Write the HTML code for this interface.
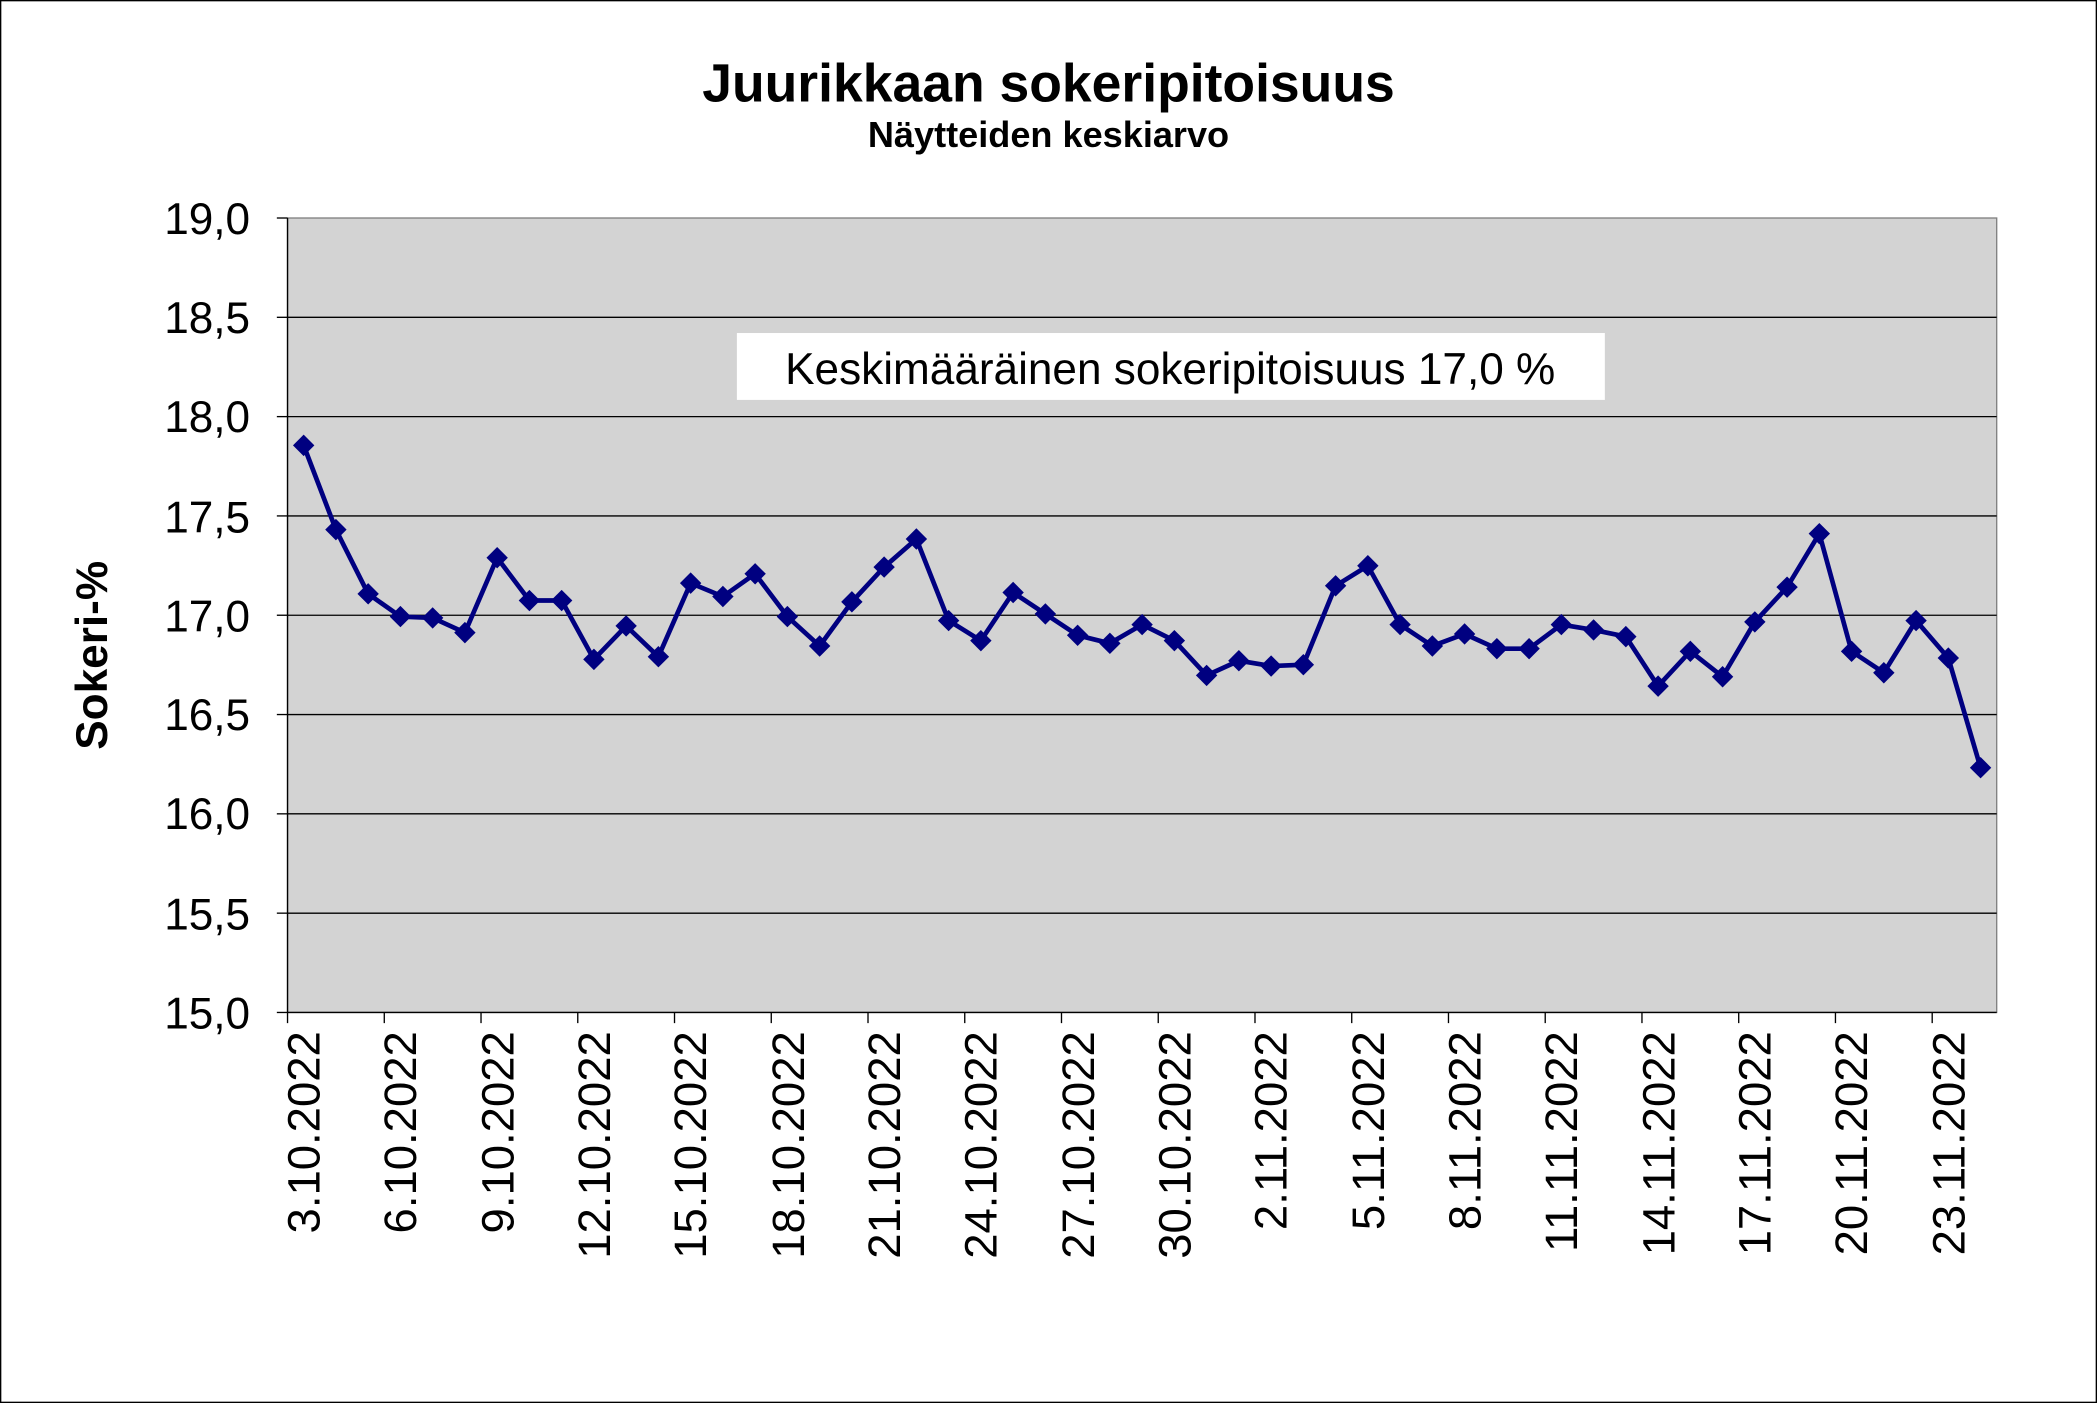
<!DOCTYPE html>
<html><head><meta charset="utf-8"><style>
html,body{margin:0;padding:0;background:#fff;}
svg{display:block;}
text{font-family:"Liberation Sans",Arial,sans-serif;fill:#000;}
</style></head><body>
<svg width="2097" height="1403" viewBox="0 0 1568 1049" preserveAspectRatio="none" xmlns="http://www.w3.org/2000/svg" xmlns:xlink="http://www.w3.org/1999/xlink">
<defs><path id="d" d="M0,-8 L8,0 L0,8 L-8,0Z" fill="#000080"/></defs>
<rect x="0.5" y="0.5" width="1567" height="1048" fill="#fff" stroke="#000" stroke-width="1"/>
<text x="784" y="76" font-size="40" font-weight="bold" text-anchor="middle">Juurikkaan sokeripitoisuus</text>
<text x="784" y="110" font-size="27" font-weight="bold" text-anchor="middle">Näytteiden keskiarvo</text>
<rect x="215" y="163" width="1278" height="594" fill="#d3d3d3" stroke="#808080" stroke-width="1"/>
<g stroke="#000" stroke-width="1">
<line x1="215" y1="237.25" x2="1493" y2="237.25"/>
<line x1="215" y1="311.5" x2="1493" y2="311.5"/>
<line x1="215" y1="385.75" x2="1493" y2="385.75"/>
<line x1="215" y1="460" x2="1493" y2="460"/>
<line x1="215" y1="534.25" x2="1493" y2="534.25"/>
<line x1="215" y1="608.5" x2="1493" y2="608.5"/>
<line x1="215" y1="682.75" x2="1493" y2="682.75"/>
<line x1="215" y1="163" x2="215" y2="757"/>
<line x1="215" y1="757" x2="1493" y2="757"/>
<line x1="207" y1="163" x2="215" y2="163"/><line x1="207" y1="237.25" x2="215" y2="237.25"/>
<line x1="207" y1="311.5" x2="215" y2="311.5"/><line x1="207" y1="385.75" x2="215" y2="385.75"/>
<line x1="207" y1="460" x2="215" y2="460"/><line x1="207" y1="534.25" x2="215" y2="534.25"/>
<line x1="207" y1="608.5" x2="215" y2="608.5"/><line x1="207" y1="682.75" x2="215" y2="682.75"/>
<line x1="207" y1="757" x2="215" y2="757"/>
</g>
<line x1="215" y1="761" x2="1494" y2="761" stroke="#000" stroke-width="8" stroke-dasharray="1 71.3396" transform="translate(-0.5,0)"/>
<g font-size="33" text-anchor="end">
<text x="187" y="175">19,0</text><text x="187" y="249">18,5</text><text x="187" y="323">18,0</text>
<text x="187" y="398">17,5</text><text x="187" y="472">17,0</text><text x="187" y="546">16,5</text>
<text x="187" y="620">16,0</text><text x="187" y="695">15,5</text><text x="187" y="769">15,0</text>
</g>
<text transform="translate(80,490) rotate(-90)" font-size="33" font-weight="bold" text-anchor="middle">Sokeri-%</text>
<rect x="551" y="249" width="649" height="50" fill="#fff"/>
<text x="875" y="287" font-size="33" text-anchor="middle">Keskimääräinen sokeripitoisuus 17,0 %</text>
<g font-size="34" text-anchor="end">
<text transform="translate(239,771) rotate(-90)">3.10.2022</text>
<text transform="translate(311,771) rotate(-90)">6.10.2022</text>
<text transform="translate(384,771) rotate(-90)">9.10.2022</text>
<text transform="translate(456,771) rotate(-90)">12.10.2022</text>
<text transform="translate(528,771) rotate(-90)">15.10.2022</text>
<text transform="translate(601,771) rotate(-90)">18.10.2022</text>
<text transform="translate(673,771) rotate(-90)">21.10.2022</text>
<text transform="translate(745,771) rotate(-90)">24.10.2022</text>
<text transform="translate(818,771) rotate(-90)">27.10.2022</text>
<text transform="translate(890,771) rotate(-90)">30.10.2022</text>
<text transform="translate(962,771) rotate(-90)">2.11.2022</text>
<text transform="translate(1035,771) rotate(-90)">5.11.2022</text>
<text transform="translate(1107,771) rotate(-90)">8.11.2022</text>
<text transform="translate(1179,771) rotate(-90)">11.11.2022</text>
<text transform="translate(1252,771) rotate(-90)">14.11.2022</text>
<text transform="translate(1324,771) rotate(-90)">17.11.2022</text>
<text transform="translate(1396,771) rotate(-90)">20.11.2022</text>
<text transform="translate(1469,771) rotate(-90)">23.11.2022</text>
</g>
<polyline fill="none" stroke="#000080" stroke-width="3.5" points="227.06,333 251.17,396 275.28,444 299.40,461 323.51,462 347.62,473 371.74,417 395.85,449 419.96,449 444.08,493 468.19,468 492.30,491 516.42,436 540.53,446 564.64,429 588.75,461 612.87,483 636.98,450 661.09,424 685.21,403 709.32,464 733.43,479 757.55,443 781.66,459 805.77,475 829.89,481 854.00,467 878.11,479 902.23,505 926.34,494 950.45,498 974.57,497 998.68,438 1022.79,423 1046.91,467 1071.02,483 1095.13,474 1119.25,485 1143.36,485 1167.47,467 1191.58,471 1215.70,476 1239.81,513 1263.92,487 1288.04,506 1312.15,465 1336.26,439 1360.38,399 1384.49,487 1408.60,503 1432.72,464 1456.83,492 1480.94,574"/>
<g>
<use xlink:href="#d" x="227.06" y="333"/><use xlink:href="#d" x="251.17" y="396"/><use xlink:href="#d" x="275.28" y="444"/><use xlink:href="#d" x="299.40" y="461"/><use xlink:href="#d" x="323.51" y="462"/><use xlink:href="#d" x="347.62" y="473"/><use xlink:href="#d" x="371.74" y="417"/><use xlink:href="#d" x="395.85" y="449"/><use xlink:href="#d" x="419.96" y="449"/><use xlink:href="#d" x="444.08" y="493"/><use xlink:href="#d" x="468.19" y="468"/><use xlink:href="#d" x="492.30" y="491"/><use xlink:href="#d" x="516.42" y="436"/><use xlink:href="#d" x="540.53" y="446"/><use xlink:href="#d" x="564.64" y="429"/><use xlink:href="#d" x="588.75" y="461"/><use xlink:href="#d" x="612.87" y="483"/><use xlink:href="#d" x="636.98" y="450"/><use xlink:href="#d" x="661.09" y="424"/><use xlink:href="#d" x="685.21" y="403"/><use xlink:href="#d" x="709.32" y="464"/><use xlink:href="#d" x="733.43" y="479"/><use xlink:href="#d" x="757.55" y="443"/><use xlink:href="#d" x="781.66" y="459"/><use xlink:href="#d" x="805.77" y="475"/><use xlink:href="#d" x="829.89" y="481"/><use xlink:href="#d" x="854.00" y="467"/><use xlink:href="#d" x="878.11" y="479"/><use xlink:href="#d" x="902.23" y="505"/><use xlink:href="#d" x="926.34" y="494"/><use xlink:href="#d" x="950.45" y="498"/><use xlink:href="#d" x="974.57" y="497"/><use xlink:href="#d" x="998.68" y="438"/><use xlink:href="#d" x="1022.79" y="423"/><use xlink:href="#d" x="1046.91" y="467"/><use xlink:href="#d" x="1071.02" y="483"/><use xlink:href="#d" x="1095.13" y="474"/><use xlink:href="#d" x="1119.25" y="485"/><use xlink:href="#d" x="1143.36" y="485"/><use xlink:href="#d" x="1167.47" y="467"/><use xlink:href="#d" x="1191.58" y="471"/><use xlink:href="#d" x="1215.70" y="476"/><use xlink:href="#d" x="1239.81" y="513"/><use xlink:href="#d" x="1263.92" y="487"/><use xlink:href="#d" x="1288.04" y="506"/><use xlink:href="#d" x="1312.15" y="465"/><use xlink:href="#d" x="1336.26" y="439"/><use xlink:href="#d" x="1360.38" y="399"/><use xlink:href="#d" x="1384.49" y="487"/><use xlink:href="#d" x="1408.60" y="503"/><use xlink:href="#d" x="1432.72" y="464"/><use xlink:href="#d" x="1456.83" y="492"/><use xlink:href="#d" x="1480.94" y="574"/>
</g>
</svg>
</body></html>
